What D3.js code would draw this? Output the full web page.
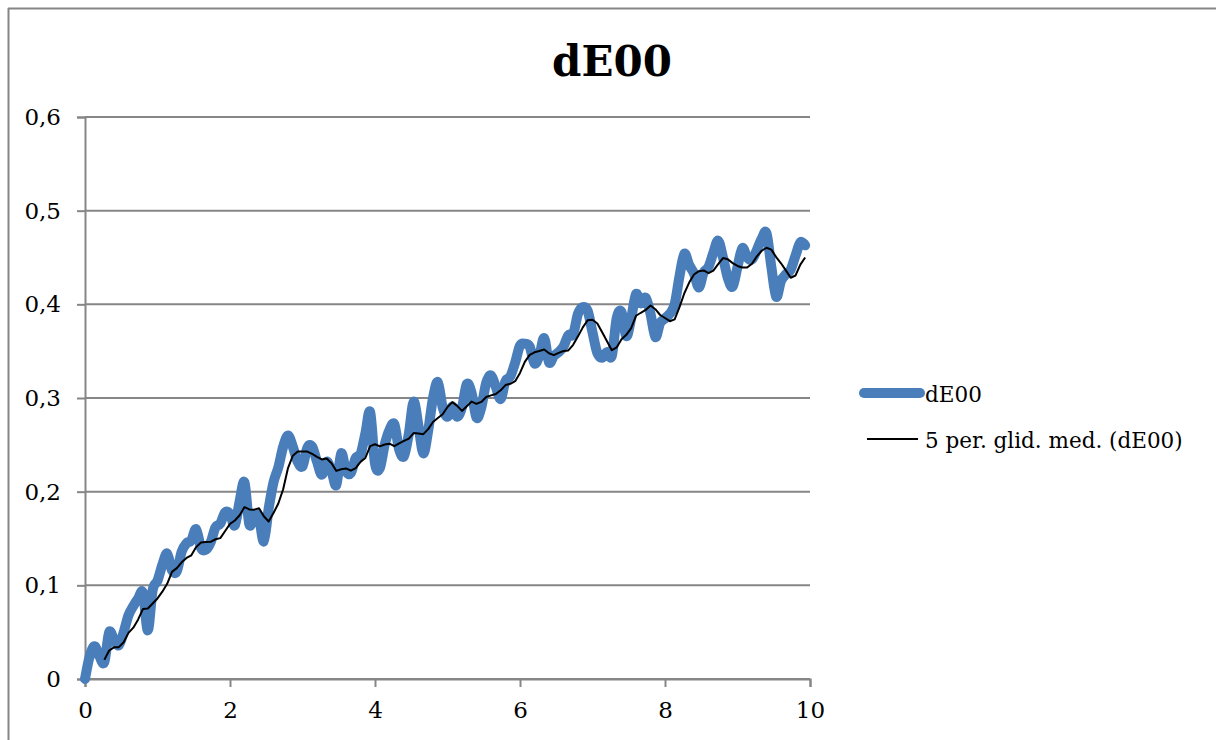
<!DOCTYPE html>
<html>
<head>
<meta charset="utf-8">
<script src="https://cdn.jsdelivr.net/npm/d3@7"></script>
<style>
  html, body { margin: 0; padding: 0; background: #fff; }
  svg { display: block; }
</style>
</head>
<body>
<svg id="chart" width="1216" height="740"></svg>
<script>
// ---- data ----
const title = "dE00";
const seriesName = "dE00";
const trendName = "5 per. glid. med. (dE00)";
const xStep = 1 / 15;
const dE00 = [
  0.000, 0.025, 0.035, 0.024, 0.018, 0.050, 0.042, 0.036, 0.050, 0.068,
  0.078, 0.086, 0.092, 0.052, 0.095, 0.105, 0.122, 0.134, 0.116, 0.115,
  0.136, 0.145, 0.148, 0.160, 0.140, 0.138, 0.146, 0.162, 0.166, 0.178,
  0.176, 0.164, 0.190, 0.210, 0.165, 0.175, 0.172, 0.147, 0.182, 0.210,
  0.226, 0.248, 0.260, 0.248, 0.232, 0.227, 0.247, 0.248, 0.232, 0.218,
  0.232, 0.222, 0.207, 0.241, 0.222, 0.220, 0.236, 0.240, 0.262, 0.285,
  0.230, 0.225, 0.250, 0.266, 0.272, 0.245, 0.238, 0.262, 0.296, 0.270,
  0.241, 0.265, 0.300, 0.317, 0.290, 0.280, 0.291, 0.280, 0.290, 0.315,
  0.305, 0.279, 0.290, 0.316, 0.324, 0.312, 0.299, 0.318, 0.323, 0.338,
  0.356, 0.358, 0.355, 0.337, 0.345, 0.364, 0.338, 0.345, 0.349, 0.355,
  0.367, 0.368, 0.390, 0.397, 0.393, 0.370, 0.348, 0.343, 0.349, 0.345,
  0.385, 0.392, 0.366, 0.385, 0.411, 0.401, 0.407, 0.390, 0.365, 0.380,
  0.385, 0.390, 0.400, 0.430, 0.454, 0.442, 0.433, 0.418, 0.434, 0.440,
  0.455, 0.468, 0.450, 0.428, 0.419, 0.440, 0.460, 0.450, 0.448, 0.458,
  0.470, 0.476, 0.440, 0.408, 0.425, 0.432, 0.437, 0.452, 0.466, 0.463
];
const maPeriod = 5;
const yTicks = [0, 0.1, 0.2, 0.3, 0.4, 0.5, 0.6];
const xTicks = [0, 2, 4, 6, 8, 10];

// ---- build ----
const pts = dE00.map((v, i) => ({ x: i * xStep, y: v }));
const ma = [];
for (let i = maPeriod - 1; i < pts.length; i++) {
  const m = d3.mean(pts.slice(i - maPeriod + 1, i + 1), d => d.y);
  ma.push({ x: pts[i].x, y: m });
}

const svg = d3.select("#chart");
const FONT = "'DejaVu Serif', serif";
const GRID = "#868686";

// outer frame (cropped chart area)
svg.append("line").attr("x1", 8.5).attr("x2", 8.5).attr("y1", 8).attr("y2", 740)
  .attr("stroke", GRID).attr("stroke-width", 2);
svg.append("line").attr("x1", 8).attr("x2", 1216).attr("y1", 8.5).attr("y2", 8.5)
  .attr("stroke", GRID).attr("stroke-width", 2);

const x = d3.scaleLinear().domain([0, 10]).range([85, 810]);
const y = d3.scaleLinear().domain([0, 0.6]).range([679, 117]);

const loc = d3.formatLocale({ decimal: ",", thousands: " ", grouping: [3], currency: ["", ""] });
const fmtY = v => v === 0 ? "0" : loc.format(".1f")(v);

// gridlines
svg.append("g").selectAll("line").data(yTicks).join("line")
  .attr("x1", x(0)).attr("x2", x(10))
  .attr("y1", d => y(d)).attr("y2", d => y(d))
  .attr("stroke", GRID).attr("stroke-width", 2);

// y axis
const yAxis = svg.append("g").attr("transform", `translate(${x(0)},0)`)
  .call(d3.axisLeft(y).tickValues(yTicks).tickFormat(fmtY).tickSize(8).tickPadding(16));
yAxis.select(".domain").attr("stroke", GRID).attr("stroke-width", 2);
yAxis.selectAll(".tick line").attr("stroke", GRID).attr("stroke-width", 2);
yAxis.selectAll("text").attr("font-family", FONT).attr("font-size", 23).attr("fill", "#000");

// x axis
const xAxis = svg.append("g").attr("transform", `translate(0,${y(0)})`)
  .call(d3.axisBottom(x).tickValues(xTicks).tickFormat(d3.format("d")).tickSize(8).tickPadding(15));
xAxis.select(".domain").attr("stroke", GRID).attr("stroke-width", 2);
xAxis.selectAll(".tick line").attr("stroke", GRID).attr("stroke-width", 2);
xAxis.selectAll("text").attr("font-family", FONT).attr("font-size", 23).attr("fill", "#000");

// series
const blue = "#4a7ebb";
svg.append("path").datum(pts)
  .attr("fill", "none").attr("stroke", blue).attr("stroke-width", 10)
  .attr("stroke-linejoin", "round").attr("stroke-linecap", "round")
  .attr("d", d3.line().x(d => x(d.x)).y(d => y(d.y)).curve(d3.curveCatmullRom.alpha(0)));

svg.append("path").datum(ma)
  .attr("fill", "none").attr("stroke", "#000").attr("stroke-width", 2)
  .attr("stroke-linejoin", "round")
  .attr("d", d3.line().x(d => x(d.x)).y(d => y(d.y)));

// title
svg.append("text").attr("x", 612).attr("y", 76).attr("text-anchor", "middle")
  .attr("font-family", FONT).attr("font-weight", "bold").attr("font-size", 42)
  .text(title);

// legend
const lg = svg.append("g");
lg.append("line").attr("x1", 864).attr("x2", 920).attr("y1", 393).attr("y2", 393)
  .attr("stroke", blue).attr("stroke-width", 10).attr("stroke-linecap", "round");
lg.append("text").attr("x", 925).attr("y", 402)
  .attr("font-family", FONT).attr("font-size", 21.5).text(seriesName);
lg.append("line").attr("x1", 867).attr("x2", 918).attr("y1", 439).attr("y2", 439)
  .attr("stroke", "#000").attr("stroke-width", 2);
lg.append("text").attr("x", 925).attr("y", 448)
  .attr("font-family", FONT).attr("font-size", 21.5).text(trendName);
</script>
</body>
</html>
